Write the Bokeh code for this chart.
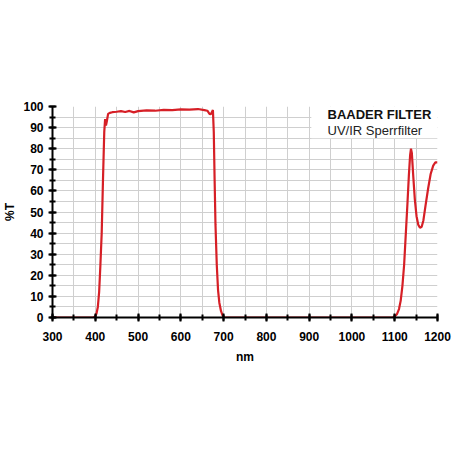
from bokeh.plotting import figure
from bokeh.models import FixedTicker, Range1d, Label, BoxAnnotation
from bokeh.embed import file_html
from bokeh.resources import INLINE

# Wavelength (nm) and transmission (%T)
wavelength = [300, 395, 400, 403, 406, 409, 412, 415, 418, 421, 423, 425, 427, 430, 434,
              440, 450, 460, 470, 480, 490, 500, 520, 540, 560, 580, 600, 620, 640, 655,
              662, 667, 670, 673, 675, 677, 679, 681, 684, 687, 690, 694, 698, 702, 720,
              1095, 1100, 1105, 1110, 1114, 1118, 1122, 1126, 1130, 1133, 1136, 1138, 1140,
              1143, 1147, 1151, 1155, 1159, 1163, 1167, 1172, 1178, 1184, 1190, 1195, 1200]
transmission = [0, 0, 0.5, 2, 5, 12, 25, 40, 65, 88, 94, 91, 93, 96.5, 97,
                97.3, 97.5, 97.8, 97.4, 97.9, 97.2, 97.8, 98.2, 98.0, 98.4, 98.3, 98.6, 98.5, 98.8, 98.3,
                98.0, 96.5, 96.3, 97.5, 98.3, 88, 65, 44, 25, 13, 7, 3, 0.8, 0, 0,
                0, 0.5, 1.5, 4, 8, 15, 25, 40, 55, 67, 77, 80, 78,
                68, 56, 48, 44, 42.5, 43, 46, 53, 61, 68, 72, 73.5, 73.5]

x_major = [300, 400, 500, 600, 700, 800, 900, 1000, 1100, 1200]
x_minor = [300, 350, 400, 450, 500, 550, 600, 650, 700, 750, 800, 850, 900, 950, 1000, 1050, 1100, 1150, 1200]
y_major = [0, 10, 20, 30, 40, 50, 60, 70, 80, 90, 100]
y_minor = [0, 5, 10, 15, 20, 25, 30, 35, 40, 45, 50, 55, 60, 65, 70, 75, 80, 85, 90, 95, 100]

title_text = "BAADER FILTER"
subtitle_text = "UV/IR Sperrfilter"
x_label = "nm"
y_label = "%T"

FONT = "Liberation Sans"

p = figure(width=458, height=458, output_backend="svg", toolbar_location=None,
           x_range=Range1d(300, 1200), y_range=Range1d(0, 100))
p.min_border_left = 52
p.min_border_right = 21
p.min_border_top = 106
p.min_border_bottom = 141
p.outline_line_color = None
p.background_fill_color = "white"

# grids
for g, ticks in ((p.xgrid, x_minor), (p.ygrid, y_minor)):
    g.ticker = FixedTicker(ticks=ticks)
    g.grid_line_color = "#cfcfcf"
    g.grid_line_width = 1

# axes
for ax, maj, mnr in ((p.xaxis, x_major, x_minor), (p.yaxis, y_major, y_minor)):
    ax.ticker = FixedTicker(ticks=maj, minor_ticks=mnr)
    ax.axis_line_color = "black"
    ax.axis_line_width = 2
    ax.major_tick_line_color = "black"
    ax.major_tick_line_width = 2
    ax.minor_tick_line_color = "black"
    ax.minor_tick_line_width = 2
    ax.major_tick_in = 4
    ax.major_tick_out = 4
    ax.minor_tick_in = 3
    ax.minor_tick_out = 3
    ax.major_label_text_font = FONT
    ax.major_label_text_font_style = "bold"
    ax.major_label_text_font_size = "12px"
    ax.major_label_text_color = "black"
    ax.axis_label_text_font = FONT
    ax.axis_label_text_font_style = "bold"
    ax.axis_label_text_font_size = "12px"
    ax.axis_label_text_color = "black"

p.xaxis.axis_label = x_label
p.yaxis.axis_label = y_label
p.xaxis.major_label_standoff = 10
p.xaxis.axis_label_standoff = 6
p.yaxis.major_label_standoff = 5
p.yaxis.axis_label_standoff = 3

# white box behind the title
p.add_layout(BoxAnnotation(left=905, right=1199, bottom=85, top=100,
                           fill_color="white", fill_alpha=1, line_color=None, level="underlay"))

p.line(wavelength, transmission, line_color="#d61f26", line_width=2.2)

p.add_layout(Label(x=943, y=96.3, text=title_text, text_font=FONT, text_font_style="bold",
                   text_font_size="13px", text_baseline="middle", text_color="#111111"))
p.add_layout(Label(x=943, y=88.8, text=subtitle_text, text_font=FONT,
                   text_font_size="13px", text_baseline="middle", text_color="#222222"))

open("out.html", "w").write(file_html(p, INLINE))
